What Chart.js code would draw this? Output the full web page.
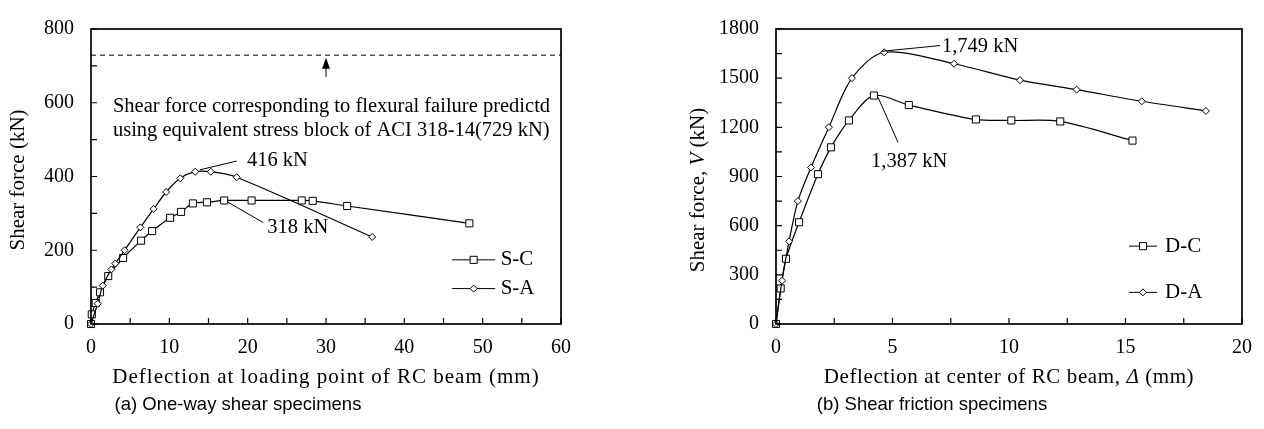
<!DOCTYPE html>
<html>
<head>
<meta charset="utf-8">
<script src="https://cdn.jsdelivr.net/npm/chart.js@4.4.1/dist/chart.umd.min.js"></script>
<style>
  body { margin: 0; background: #fff; width: 1264px; height: 429px; overflow: hidden; position: relative; }
  canvas { position: absolute; top: 0; }
  #c1 { left: 0; }
  #c2 { left: 632px; }
</style>
</head>
<body>
<canvas id="c1" width="632" height="429"></canvas>
<canvas id="c2" width="632" height="429"></canvas>
<script>
// (a) one-way shear specimens
const scX = [0, 0.1, 0.6, 1.15, 2.2, 4.1, 6.4, 7.8, 10.1, 11.5, 13.0, 14.8, 17.0, 20.5, 26.9, 28.3, 32.7, 48.3];
const scY = [0, 26, 57, 86, 130, 179, 226, 252, 288, 304, 327, 330, 335, 335, 335, 334, 320, 273];
const saX = [0, 0.85, 1.5, 2.6, 3.1, 4.3, 6.3, 8.0, 9.6, 11.4, 13.3, 15.3, 18.6, 35.9];
const saY = [0, 55, 104, 148, 164, 200, 262, 312, 358, 395, 413, 413, 398, 236];
const flexX = [0, 60];
const flexY = [729, 729];

// (b) shear friction specimens
const dcX = [0, 0.2, 0.43, 0.99, 1.8, 2.36, 3.13, 4.2, 5.7, 8.58, 10.1, 12.2, 15.3];
const dcY = [0, 217, 398, 621, 914, 1078, 1242, 1394, 1336, 1248, 1242, 1236, 1119];
const daX = [0, 0.26, 0.56, 0.94, 1.5, 2.27, 3.26, 4.64, 7.64, 10.47, 12.9, 15.7, 18.45];
const daY = [0, 264, 504, 750, 955, 1201, 1500, 1658, 1588, 1488, 1430, 1359, 1300];

const SERIF = '"Liberation Serif", "Times New Roman", serif';
const SANS = '"Liberation Sans", Arial, sans-serif';

function pts(xs, ys) { return xs.map((x, i) => ({x: x, y: ys[i]})); }
function serif(size, italic) { return (italic ? 'italic ' : '') + size + 'px ' + SERIF; }

function runsWidth(ctx, runs, fs) {
  let w = 0;
  runs.forEach(r => { ctx.font = serif(fs, r[1]); w += ctx.measureText(r[0]).width; });
  return w;
}
function drawRuns(ctx, runs, x, y, fs) {
  let cx = x - runsWidth(ctx, runs, fs) / 2;
  runs.forEach(r => {
    ctx.font = serif(fs, r[1]);
    ctx.fillText(r[0], cx, y);
    cx += ctx.measureText(r[0]).width;
  });
}

const extras = {
  id: 'extras',
  afterDraw(chart, args, o) {
    const ctx = chart.ctx, a = chart.chartArea;
    const xs = chart.scales.x, ys = chart.scales.y;
    const px = v => xs.getPixelForValue(v), py = v => ys.getPixelForValue(v);
    ctx.save();
    ctx.strokeStyle = '#000';
    ctx.fillStyle = '#000';
    // frame
    ctx.lineWidth = 1.7;
    ctx.strokeRect(a.left, a.top, a.right - a.left, a.bottom - a.top);
    // inward tick marks
    ctx.lineWidth = 1.2;
    ctx.beginPath();
    xs.ticks.forEach(t => { const x = px(t.value); ctx.moveTo(x, a.bottom); ctx.lineTo(x, a.bottom - 6); });
    ys.ticks.forEach(t => { const y = py(t.value); ctx.moveTo(a.left, y); ctx.lineTo(a.left + 6, y); });
    ctx.stroke();
    // leader lines
    ctx.lineWidth = 1;
    ctx.beginPath();
    o.leaders.forEach(l => { ctx.moveTo(px(l[0]), py(l[1])); ctx.lineTo(px(l[2]), py(l[3])); });
    ctx.stroke();
    // arrow
    if (o.arrow) {
      const ax = px(o.arrow[0]), y0 = py(o.arrow[1]), y1 = py(o.arrow[2]);
      ctx.beginPath(); ctx.moveTo(ax, y0); ctx.lineTo(ax, y1 + 8); ctx.stroke();
      ctx.beginPath(); ctx.moveTo(ax, y1); ctx.lineTo(ax - 4, y1 + 11); ctx.lineTo(ax + 4, y1 + 11); ctx.closePath(); ctx.fill();
    }
    // notes
    ctx.font = serif(20.5);
    ctx.textBaseline = 'middle';
    ctx.textAlign = 'left';
    o.notes.forEach(n => ctx.fillText(n.text, px(n.x), py(n.y)));
    // legend
    o.legend.forEach(g => {
      const x0 = px(g.x0), x1 = px(g.x1), y = py(g.y);
      ctx.lineWidth = 1;
      ctx.beginPath(); ctx.moveTo(x0, y); ctx.lineTo(x1, y); ctx.stroke();
      ctx.fillStyle = '#fff';
      Chart.helpers.drawPoint(ctx, {pointStyle: g.style, radius: g.r, borderWidth: 1, rotation: 0}, (x0 + x1) / 2, y);
      ctx.fillStyle = '#000';
      ctx.font = serif(21);
      ctx.textAlign = 'left';
      ctx.fillText(g.label, px(g.xt), y);
    });
    // axis titles
    ctx.textAlign = 'left';
    ctx.letterSpacing = o.xSpacing;
    drawRuns(ctx, o.xTitle, (a.left + a.right) / 2, 377, 21);
    ctx.letterSpacing = '0px';
    ctx.save();
    ctx.translate(o.yTitleX, o.yTitleY);
    ctx.rotate(-Math.PI / 2);
    drawRuns(ctx, o.yTitle, 0, 0, 21);
    ctx.restore();
    // caption
    ctx.font = '18.5px ' + SANS;
    ctx.textAlign = 'center';
    ctx.fillText(o.caption, o.captionX, 405);
    ctx.restore();
  }
};

function lineSet(data, style, r, tension) {
  return {
    data: data, borderColor: '#000', borderWidth: 1.2, backgroundColor: '#fff',
    pointStyle: style, pointRadius: r, pointBorderWidth: 1, pointBorderColor: '#000',
    pointBackgroundColor: '#fff', tension: tension, fill: false, clip: false
  };
}

function axes(xmax, xstep, xlab, ymax, ystep, ylab, yw) {
  const tickFont = {family: SERIF, size: 20};
  return {
    x: {
      type: 'linear', min: 0, max: xmax,
      afterFit: s => { s.height = 105; },
      grid: {display: false, drawTicks: false},
      border: {display: false},
      ticks: {stepSize: xstep, padding: 12, color: '#000', font: tickFont, maxRotation: 0, autoSkip: false,
        callback: v => (Math.abs(v / xlab - Math.round(v / xlab)) < 1e-6 ? v : '')}
    },
    y: {
      type: 'linear', min: 0, max: ymax,
      afterFit: s => { s.width = yw; },
      grid: {display: false, drawTicks: false},
      border: {display: false},
      ticks: {stepSize: ystep, padding: 17, color: '#000', font: tickFont, autoSkip: false,
        callback: v => (v % ylab === 0 ? v : '')}
    }
  };
}

new Chart(document.getElementById('c1'), {
  type: 'line',
  data: {
    datasets: [
      Object.assign(lineSet(pts(flexX, flexY), 'circle', 0, 0), {borderDash: [5, 4], borderWidth: 1}),
      lineSet(pts(saX, saY), 'rectRot', 3.5, 0.3),
      lineSet(pts(scX, scY), 'rect', 5, 0.3)
    ]
  },
  options: {
    responsive: false, animation: false, devicePixelRatio: 1,
    layout: {padding: {left: 0, right: 71, top: 17, bottom: 0}},
    plugins: {
      legend: {display: false}, tooltip: {enabled: false},
      extras: {
        leaders: [[13.9, 418, 18.6, 442], [17.5, 330, 22.0, 275]],
        arrow: [30, 670, 722],
        notes: [
          {x: 19.9, y: 442, text: '416 kN'},
          {x: 22.5, y: 262, text: '318 kN'},
          {x: 2.8, y: 590, text: 'Shear force corresponding to flexural failure predictd'},
          {x: 2.8, y: 525, text: 'using equivalent stress block of ACI 318-14(729 kN)'}
        ],
        legend: [
          {label: 'S-C', style: 'rect', r: 5, x0: 46.1, x1: 51.6, xt: 52.3, y: 174},
          {label: 'S-A', style: 'rectRot', r: 3.5, x0: 46.1, x1: 51.6, xt: 52.3, y: 96}
        ],
        xTitle: [['Deflection at loading point of RC beam (mm)', false]],
        xSpacing: '1px',
        yTitle: [['Shear force (kN)', false]],
        yTitleX: 18,
        yTitleY: 180,
        caption: '(a) One-way shear specimens',
        captionX: 238
      }
    },
    scales: axes(60, 5, 10, 800, 100, 200, 91)
  },
  plugins: [extras]
});

new Chart(document.getElementById('c2'), {
  type: 'line',
  data: {
    datasets: [
      lineSet(pts(daX, daY), 'rectRot', 3.5, 0.3),
      lineSet(pts(dcX, dcY), 'rect', 5, 0.3)
    ]
  },
  options: {
    responsive: false, animation: false, devicePixelRatio: 1,
    layout: {padding: {left: 0, right: 22, top: 17, bottom: 0}},
    plugins: {
      legend: {display: false}, tooltip: {enabled: false},
      extras: {
        leaders: [[4.55, 1664, 7.04, 1699], [4.38, 1383, 5.24, 1107]],
        arrow: null,
        notes: [
          {x: 7.12, y: 1693, text: '1,749 kN'},
          {x: 4.08, y: 990, text: '1,387 kN'}
        ],
        legend: [
          {label: 'D-C', style: 'rect', r: 5, x0: 15.15, x1: 16.35, xt: 16.7, y: 475},
          {label: 'D-A', style: 'rectRot', r: 3.5, x0: 15.15, x1: 16.35, xt: 16.7, y: 193}
        ],
        xTitle: [['Deflection at center of RC beam, ', false], ['\u0394', true], [' (mm)', false]],
        xSpacing: '0.6px',
        yTitle: [['Shear force, ', false], ['V', true], [' (kN)', false]],
        yTitleX: 66,
        yTitleY: 190,
        caption: '(b) Shear friction specimens',
        captionX: 300
      }
    },
    scales: axes(20, 2.5, 5, 1800, 150, 300, 144)
  },
  plugins: [extras]
});
</script>
</body>
</html>
